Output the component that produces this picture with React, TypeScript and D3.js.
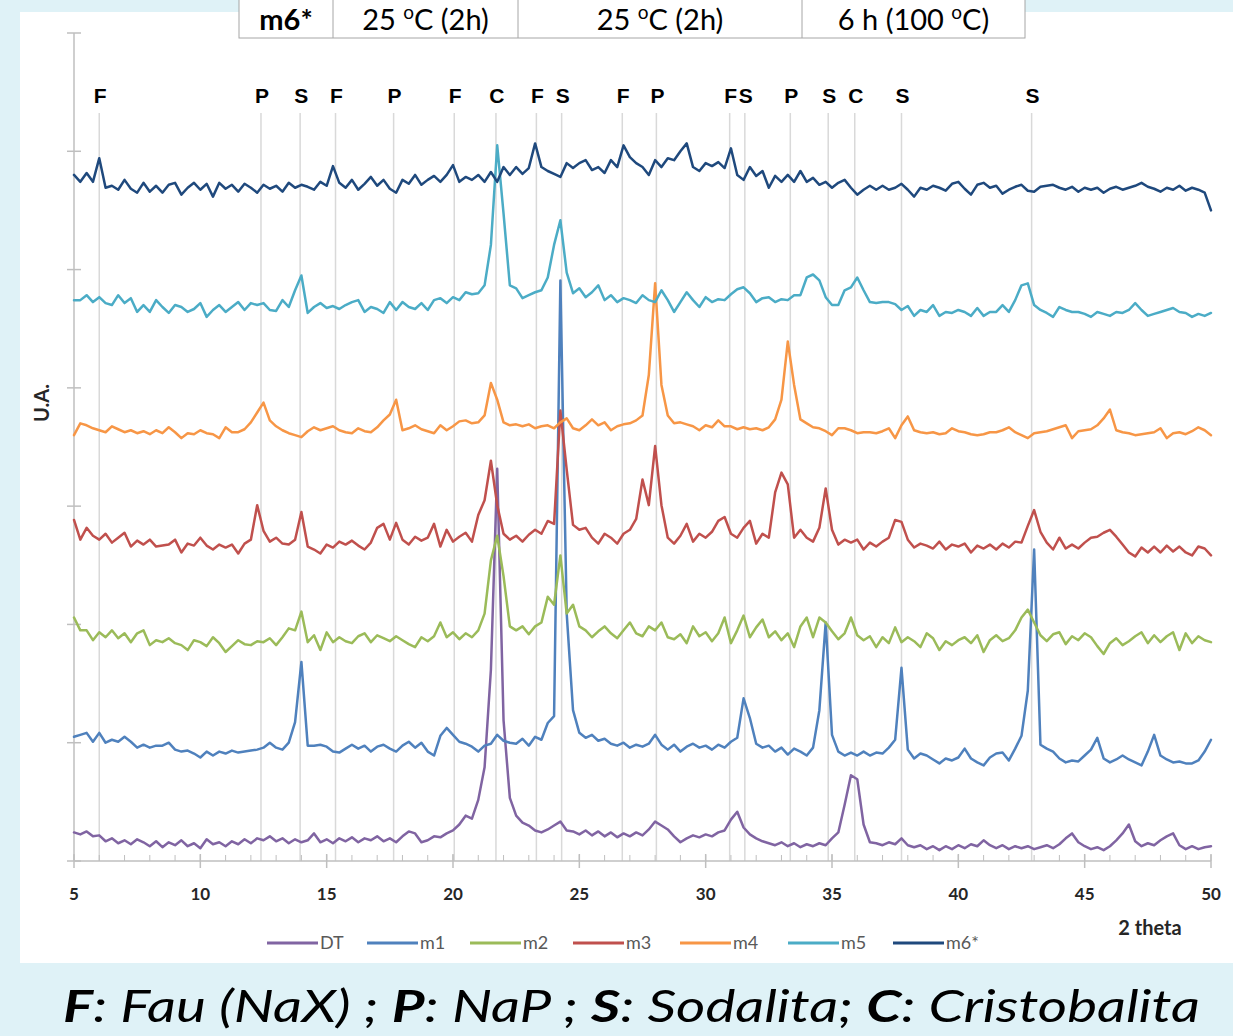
import React from 'react';
import * as d3 from 'd3';

// XRD patterns, 2 theta from 5 to 50 sampled every 0.25 deg (arbitrary units)
const START = 5;
const STEP = 0.25;

const seriesNames = ['DT', 'm1', 'm2', 'm3', 'm4', 'm5', 'm6*'];
const seriesColors = ['#8064a2', '#4f81bd', '#9bbb59', '#c0504d', '#f79646', '#4bacc6', '#1f497d'];

const dt = [
  29, 27, 30, 25, 26, 20, 23, 18, 21, 17, 22, 19, 15, 20, 14, 19, 16, 21, 15, 18,
  13, 22, 17, 19, 15, 20, 17, 22, 18, 23, 21, 25, 20, 23, 18, 22, 19, 21, 28, 19,
  22, 18, 23, 20, 24, 19, 23, 21, 25, 20, 23, 19, 25, 30, 28, 19, 21, 25, 24, 28,
  31, 37, 46, 43, 62, 95, 194, 398, 143, 64, 46, 39, 36, 31, 29, 32, 36, 40, 31, 30,
  27, 31, 26, 30, 25, 29, 24, 28, 25, 29, 26, 32, 40, 36, 32, 25, 19, 23, 26, 24,
  27, 25, 29, 31, 42, 50, 34, 27, 23, 20, 18, 16, 19, 15, 18, 14, 17, 15, 18, 16,
  23, 29, 57, 87, 83, 37, 19, 18, 16, 19, 17, 23, 16, 14, 16, 12, 15, 11, 15, 12,
  16, 13, 17, 15, 21, 16, 13, 16, 12, 15, 13, 15, 12, 14, 16, 13, 17, 23, 28, 19,
  15, 12, 14, 11, 15, 21, 28, 37, 20, 15, 18, 16, 21, 25, 28, 16, 12, 15, 12, 14,
  15,
];

const m1 = [
  126, 128, 130, 121, 130, 120, 123, 121, 126, 121, 115, 118, 115, 117, 117, 120, 113, 111, 112, 109,
  105, 111, 107, 111, 109, 112, 110, 111, 112, 113, 115, 120, 115, 113, 120, 141, 202, 117, 117, 118,
  116, 111, 110, 114, 118, 114, 117, 111, 116, 118, 114, 111, 117, 121, 115, 120, 111, 107, 127, 135,
  128, 121, 119, 116, 111, 117, 119, 128, 122, 120, 119, 124, 117, 126, 123, 140, 147, 589, 251, 153,
  130, 125, 128, 122, 124, 119, 117, 120, 115, 118, 116, 119, 128, 118, 113, 118, 111, 116, 119, 115,
  117, 113, 118, 115, 121, 125, 165, 145, 119, 115, 117, 111, 115, 108, 114, 111, 107, 115, 153, 242,
  128, 111, 107, 110, 107, 111, 107, 110, 109, 115, 123, 196, 113, 104, 109, 107, 103, 99, 104, 102,
  105, 114, 104, 100, 97, 105, 109, 110, 102, 114, 127, 173, 316, 118, 114, 111, 104, 100, 102, 101,
  107, 113, 125, 104, 100, 103, 107, 103, 100, 97, 111, 128, 107, 103, 100, 101, 99, 99, 102, 111,
  123,
];

const m2 = [
  247, 234, 234, 224, 232, 227, 234, 226, 231, 222, 231, 234, 219, 224, 222, 226, 221, 219, 214, 224,
  222, 218, 227, 221, 212, 218, 224, 220, 219, 223, 222, 226, 219, 227, 236, 234, 253, 222, 229, 214,
  232, 222, 227, 223, 221, 228, 231, 222, 229, 226, 223, 228, 224, 220, 217, 227, 223, 228, 242, 227,
  232, 225, 231, 227, 234, 251, 305, 330, 289, 238, 234, 238, 230, 238, 242, 268, 260, 310, 251, 260,
  238, 234, 227, 233, 238, 231, 226, 234, 242, 231, 228, 238, 234, 242, 227, 225, 230, 221, 238, 228,
  232, 223, 231, 247, 221, 234, 249, 227, 237, 245, 227, 233, 224, 231, 217, 238, 247, 227, 247, 242,
  233, 225, 231, 247, 229, 224, 228, 217, 227, 221, 237, 222, 227, 223, 217, 231, 226, 214, 223, 219,
  224, 227, 221, 229, 212, 224, 229, 223, 226, 234, 247, 255, 242, 229, 223, 230, 232, 220, 228, 224,
  231, 227, 218, 210, 221, 226, 219, 223, 228, 232, 221, 229, 222, 228, 232, 214, 231, 221, 228, 224,
  222,
];

const m3 = [
  346, 326, 338, 330, 326, 332, 323, 328, 333, 319, 325, 321, 326, 319, 320, 321, 326, 313, 322, 320,
  328, 320, 316, 321, 318, 321, 312, 322, 326, 361, 335, 324, 328, 322, 321, 326, 354, 319, 316, 312,
  321, 318, 324, 321, 325, 320, 316, 323, 338, 342, 326, 343, 326, 321, 329, 325, 328, 342, 319, 336,
  324, 329, 333, 324, 351, 366, 406, 361, 332, 326, 330, 324, 331, 336, 332, 345, 342, 457, 397, 341,
  336, 338, 328, 322, 332, 328, 322, 332, 336, 347, 387, 361, 421, 361, 328, 322, 330, 342, 324, 332,
  328, 334, 345, 349, 332, 328, 338, 345, 322, 332, 328, 374, 394, 382, 328, 336, 328, 324, 338, 378,
  336, 321, 326, 323, 326, 316, 323, 319, 324, 328, 346, 344, 326, 318, 322, 320, 317, 324, 316, 321,
  319, 322, 313, 320, 317, 321, 316, 322, 318, 324, 323, 340, 356, 334, 323, 316, 328, 317, 321, 317,
  323, 328, 329, 333, 336, 329, 321, 313, 309, 318, 313, 319, 313, 320, 314, 319, 313, 310, 319, 317,
  310,
];

const m4 = [
  432, 444, 442, 439, 437, 435, 441, 438, 435, 437, 434, 436, 433, 437, 434, 440, 435, 429, 434, 433,
  437, 434, 433, 429, 440, 435, 435, 438, 445, 455, 465, 447, 441, 437, 434, 432, 430, 436, 440, 437,
  439, 441, 437, 435, 434, 439, 436, 435, 440, 447, 453, 468, 437, 439, 442, 438, 436, 434, 442, 437,
  441, 446, 447, 444, 445, 452, 485, 468, 445, 442, 443, 441, 443, 439, 441, 442, 439, 445, 449, 439,
  437, 442, 448, 442, 445, 437, 441, 443, 444, 447, 452, 493, 586, 483, 452, 444, 445, 443, 441, 437,
  442, 440, 447, 441, 441, 438, 440, 438, 439, 437, 440, 448, 468, 527, 483, 448, 444, 440, 439, 436,
  432, 439, 439, 437, 434, 435, 435, 434, 436, 439, 429, 442, 451, 437, 435, 434, 435, 433, 434, 439,
  436, 435, 433, 432, 433, 435, 435, 437, 440, 435, 432, 429, 434, 435, 436, 438, 440, 442, 429, 436,
  437, 438, 442, 449, 458, 437, 435, 434, 432, 433, 434, 435, 439, 429, 434, 435, 433, 436, 440, 437,
  432,
];

const m5 = [
  569, 569, 574, 567, 572, 566, 564, 574, 566, 571, 557, 564, 557, 569, 562, 556, 564, 562, 557, 560,
  566, 552, 559, 564, 557, 562, 567, 559, 566, 564, 566, 559, 558, 569, 562, 579, 594, 556, 562, 566,
  561, 563, 560, 564, 567, 569, 557, 562, 560, 556, 567, 559, 567, 562, 560, 566, 559, 569, 571, 566,
  572, 569, 577, 575, 576, 584, 625, 726, 657, 584, 581, 571, 574, 577, 579, 592, 625, 650, 597, 576,
  581, 572, 577, 584, 569, 574, 567, 571, 569, 566, 574, 569, 567, 579, 569, 557, 567, 577, 569, 562,
  572, 567, 570, 569, 575, 580, 582, 576, 567, 571, 572, 567, 570, 569, 574, 574, 592, 595, 589, 572,
  564, 564, 579, 582, 592, 579, 567, 566, 567, 567, 565, 559, 563, 553, 559, 557, 564, 553, 557, 556,
  559, 557, 553, 561, 553, 557, 557, 564, 557, 569, 584, 586, 564, 559, 556, 552, 562, 559, 557, 557,
  555, 552, 557, 555, 553, 557, 556, 559, 566, 559, 553, 555, 557, 559, 561, 557, 556, 552, 555, 553,
  556,
];

const m6 = [
  696, 689, 698, 689, 713, 683, 685, 681, 691, 682, 678, 688, 679, 685, 678, 686, 688, 676, 683, 688,
  681, 687, 674, 688, 682, 686, 679, 687, 683, 678, 686, 682, 685, 679, 688, 683, 686, 684, 681, 689,
  685, 705, 688, 683, 691, 681, 687, 694, 685, 691, 682, 678, 691, 687, 696, 686, 691, 695, 689, 696,
  706, 689, 694, 691, 696, 689, 699, 689, 704, 696, 704, 697, 703, 728, 704, 700, 697, 694, 708, 703,
  708, 711, 701, 704, 698, 711, 704, 726, 714, 708, 704, 696, 711, 704, 713, 711, 720, 728, 704, 700,
  708, 705, 709, 703, 723, 696, 691, 704, 695, 700, 683, 695, 689, 696, 689, 700, 689, 693, 686, 689,
  683, 688, 691, 683, 676, 681, 685, 681, 685, 681, 683, 687, 681, 674, 683, 681, 685, 683, 680, 687,
  689, 682, 676, 686, 688, 683, 685, 677, 681, 684, 686, 680, 679, 684, 685, 686, 683, 681, 684, 679,
  683, 681, 683, 678, 682, 684, 681, 683, 685, 688, 684, 682, 679, 683, 681, 685, 680, 683, 681, 678,
  660,
];

const allSeries = [dt, m1, m2, m3, m4, m5, m6];

// phase markers (2 theta) and their letters
const peakPos = [6.0, 12.4, 13.95, 15.35, 17.65, 20.05, 21.7, 23.3, 24.3, 26.7, 28.05, 30.95, 31.55, 33.35, 34.85, 35.9, 37.75, 42.9];
const peakLabel = ['F', 'P', 'S', 'F', 'P', 'F', 'C', 'F', 'S', 'F', 'P', 'F', 'S', 'P', 'S', 'C', 'S', 'S'];

const xTickLabels = [5, 10, 15, 20, 25, 30, 35, 40, 45, 50];

// bottom row of the conditions table
const tableCells = [
  { pre: 'm6*', sup: '', post: '', bold: true },
  { pre: '25 ', sup: 'o', post: 'C (2h)', bold: false },
  { pre: '25 ', sup: 'o', post: 'C (2h)', bold: false },
  { pre: '6 h (100 ', sup: 'o', post: 'C)', bold: false },
];

const W = 1233;
const H = 1036;
const FONT = 'Lato, "Open Sans", sans-serif';

export default function App() {
  const x = d3.scaleLinear().domain([5, 50]).range([74, 1211]);
  const y = d3.scaleLinear().domain([0, 840]).range([861, 33]);
  const line = d3
    .line<number>()
    .x((_, i) => x(START + i * STEP))
    .y((d) => y(d));

  const yTicks = d3.range(0, 841, 120);
  const minorTicks = d3.range(5, 50.001, 1);
  const colEdges = [239, 333, 518, 802, 1025];
  const legendX = [267, 367, 470, 573, 680, 788, 893];

  return (
    <div style={{ position: 'absolute', left: 0, top: 0, width: W, height: H }}>
      <svg width={W} height={H} style={{ display: 'block' }} fontFamily={FONT}>
        <rect width={W} height={H} fill="#dff2f7" />
        <rect x={20} y={12} width={W - 20} height={951} fill="#ffffff" />

        {/* conditions table (top rows cut off) */}
        <rect x={colEdges[0]} y={-2} width={colEdges[4] - colEdges[0]} height={40} fill="#fff" stroke="#a6a6a6" strokeWidth={1} />
        {colEdges.slice(1, 4).map((cx) => (
          <line key={cx} x1={cx} x2={cx} y1={0} y2={38} stroke="#a6a6a6" strokeWidth={1} />
        ))}
        {tableCells.map((c, i) => (
          <text
            key={i}
            x={(colEdges[i] + colEdges[i + 1]) / 2}
            y={30}
            textAnchor="middle"
            fontSize={29}
            fontWeight={c.bold ? 700 : 400}
            fill="#000"
          >
            {c.pre}
            {c.sup && (
              <tspan dy={-11} fontSize={19}>
                {c.sup}
              </tspan>
            )}
            {c.sup && <tspan dy={11}>{c.post}</tspan>}
          </text>
        ))}

        {/* phase marker lines */}
        {peakPos.map((p, i) => (
          <line key={'pl' + i} x1={x(p)} x2={x(p)} y1={113} y2={861} stroke="#d9d9d9" strokeWidth={1.5} />
        ))}
        {peakPos.map((p, i) => (
          <text
            key={'pt' + i}
            x={x(p) + 1}
            y={103}
            textAnchor="middle"
            fontSize={21}
            fontWeight={700}
            fontFamily='"Liberation Sans", Arial, sans-serif'
          >
            {peakLabel[i]}
          </text>
        ))}

        {/* axes */}
        <line x1={x(5)} x2={x(5)} y1={y(840)} y2={y(0)} stroke="#bfbfbf" strokeWidth={1.5} />
        {yTicks.map((t) => (
          <line key={'yt' + t} x1={67} x2={81} y1={y(t)} y2={y(t)} stroke="#bfbfbf" strokeWidth={1.5} />
        ))}
        <line x1={x(5)} x2={x(50)} y1={y(0)} y2={y(0)} stroke="#bfbfbf" strokeWidth={1.5} />
        {minorTicks.map((t) => (
          <line key={'mt' + t} x1={x(t)} x2={x(t)} y1={855} y2={861} stroke="#bfbfbf" strokeWidth={1} />
        ))}
        {xTickLabels.map((t) => (
          <g key={'xt' + t}>
            <line x1={x(t)} x2={x(t)} y1={854} y2={868} stroke="#bfbfbf" strokeWidth={1.5} />
            <text x={x(t)} y={900} textAnchor="middle" fontSize={17} fontWeight={700} fill="#262626">
              {t}
            </text>
          </g>
        ))}
        <text x={1150} y={935} textAnchor="middle" fontSize={20} fontWeight={700} fill="#262626">
          2 theta
        </text>
        <text transform="translate(49,403) rotate(-90)" textAnchor="middle" fontSize={20} fontWeight={700} fill="#262626">
          U.A.
        </text>

        {/* diffractograms */}
        {allSeries.map((s, i) => (
          <path
            key={seriesNames[i]}
            d={line(s) || ''}
            fill="none"
            stroke={seriesColors[i]}
            strokeWidth={2.5}
            strokeLinejoin="round"
            strokeLinecap="round"
          />
        ))}

        {/* legend */}
        {seriesNames.map((n, i) => (
          <g key={'lg' + n}>
            <line x1={legendX[i]} x2={legendX[i] + 51} y1={943} y2={943} stroke={seriesColors[i]} strokeWidth={3} />
            <text x={legendX[i] + 53} y={949} fontSize={18} fill="#595959">
              {n}
            </text>
          </g>
        ))}

        {/* caption */}
        <text
          x={63}
          y={1022}
          fontSize={44}
          fontStyle="italic"
          textLength={1137}
          lengthAdjust="spacingAndGlyphs"
          fill="#000"
        >
          <tspan fontWeight={700}>F</tspan>
          <tspan>: Fau (NaX) ; </tspan>
          <tspan fontWeight={700}>P</tspan>
          <tspan>: NaP ; </tspan>
          <tspan fontWeight={700}>S</tspan>
          <tspan>: Sodalita; </tspan>
          <tspan fontWeight={700}>C</tspan>
          <tspan>: Cristobalita</tspan>
        </text>
      </svg>
    </div>
  );
}
